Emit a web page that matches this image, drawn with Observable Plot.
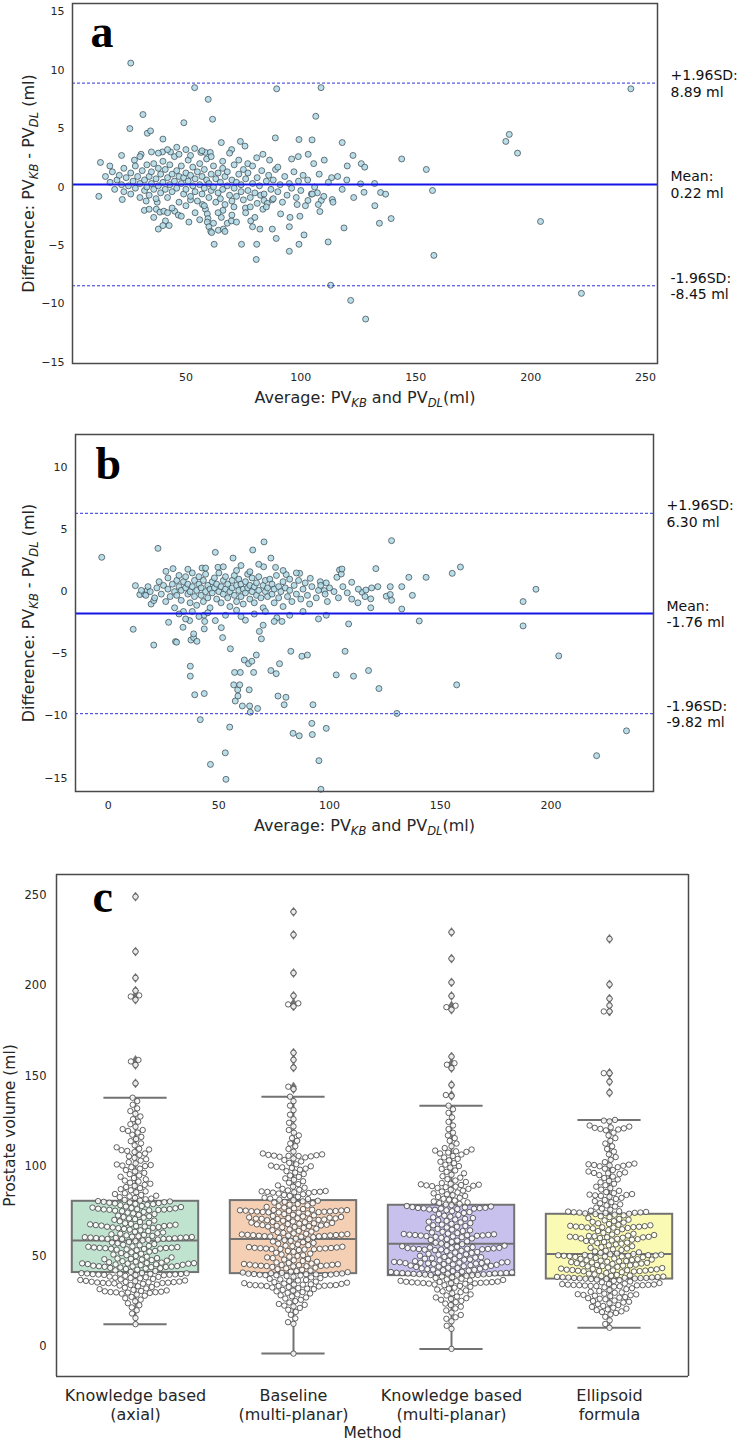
<!DOCTYPE html>
<html>
<head>
<meta charset="utf-8">
<script src="https://cdn.jsdelivr.net/npm/d3@7"></script>
<script src="https://cdn.jsdelivr.net/npm/@observablehq/plot@0.6"></script>
<style>
  body { margin: 0; background: #fff; }
  #chart { width: 740px; height: 1441px; background: #fff; }
  #chart svg { display: block; }
</style>
</head>
<body>
<div id="chart"></div>
<script>
// ---------- Panel a: Bland-Altman, PV_KB vs PV_DL (axial) ----------
const pointsA = [
  [26.0,10.6],[53.8,8.5],[59.7,7.5],[89.5,8.4],[108.8,8.5],[31.3,6.2],[25.6,5.0],[49.1,5.5],[61.6,5.8],[106.5,6.05],
  [33.2,4.6],[34.6,4.8],[40.0,4.1],[65.4,3.8],[73.7,3.9],[75.7,3.5],[88.9,4.2],[99.2,4.06],[104.9,4.03],[118.0,3.8],
  [46.0,3.4],[50.0,3.2],[53.8,3.3],[56.5,2.96],[58.5,2.96],[60.6,2.96],[69.9,3.2],[39.8,3.0],[43.3,3.0],[103.2,2.8],
  [122.7,2.7],[73.0,2.3],[76.9,2.0],[80.8,2.5],[83.5,2.8],[86.4,2.3],[105.6,2.0],[110.2,2.3],[96.0,2.4],[98.9,2.6],
  [120.2,1.8],[126.3,2.0],[127.8,1.7],[12.8,2.1],[16.9,1.8],[22.0,2.7],[27.6,2.3],[30.5,2.8],[89.0,1.5],
  [12.1,-0.8],[22.3,-1.07],[31.9,-2.0],[32.7,-1.2],[37.1,-1.9],[38.7,-2.15],[40.4,-2.07],[37.5,-1.3],[41.1,-2.9],[42.7,-3.3],
  [45.1,-2.07],[46.7,-2.4],[51.3,-3.0],[52.0,-1.1],[57.2,-1.5],[58.5,-1.9],[59.3,-2.3],[59.6,-2.7],[59.3,-3.0],[60.0,-3.4],
  [60.8,-3.8],[61.2,-3.9],[62.3,-4.9],[64.1,-3.7],[66.3,-3.6],[68.0,-3.1],[69.8,-2.9],[65.4,-2.6],[66.1,-2.0],[70.9,-1.7],
  [74.2,-4.9],[75.9,-1.8],[78.2,-2.9],[79.0,-3.4],[80.8,-4.9],[82.2,-3.6],[80.6,-6.2],[82.5,-0.7],[84.0,-1.15],[85.4,-1.4],
  [87.6,-1.1],[83.5,-1.9],[87.6,-3.6],[89.3,-4.4],[91.2,-2.3],[95.0,-3.4],[95.0,-5.5],[95.3,-2.6],[98.4,-1.5],[99.2,-4.9],
  [99.6,-2.5],[101.4,-4.1],[103.1,-1.15],[104.6,-0.6],[107.2,-0.5],[108.3,-2.1],[108.9,-1.15],[107.6,-1.5],[111.9,-4.7],[113.0,-8.4],
  [113.7,-1.07],[118.8,-3.5],[121.7,-9.7],[128.2,-11.3],[127.5,-0.45],[126.0,0.27],[113.4,0.8],
  [243.6,8.4],[190.7,4.5],[189.2,3.9],[194.3,2.9],[143.9,2.4],[154.6,1.5],[132.1,0.3],[134.7,-0.47],[136.9,-0.61],[157.3,-0.3],
  [132.2,-1.6],[134.2,-3.1],[139.3,-2.7],[204.3,-2.95],[157.9,-5.85],[222.1,-9.1],
  [15,0.9],[17,0.4],[18,1.3],[19,-0.2],[20,0.6],[21,1.0],[22,0.2],[23,-0.4],[23,1.6],[24,0.8],[25,0.1],[26,1.2],[26,-0.6],
  [27,0.5],[28,1.8],[28,-0.1],[29,0.9],[30,0.3],[30,-0.9],[31,1.4],[32,0.6],[32,-0.3],[33,1.9],[33,0.0],[34,0.9],[34,-0.7],
  [35,1.3],[35,0.3],[36,-0.2],[36,2.0],[37,0.7],[37,-1.0],[38,1.6],[38,0.1],[39,-0.5],[39,1.1],[40,0.4],[40,2.2],[41,-0.2],
  [41,1.5],[42,0.8],[42,-0.9],[43,0.2],[43,1.9],[44,-0.4],[44,1.1],[45,0.5],[45,2.6],[46,-0.1],[46,1.4],[47,0.9],[47,-1.3],
  [48,0.3],[48,1.8],[49,-0.6],[49,0.8],[50,1.2],[50,-0.2],[51,0.5],[51,2.3],[52,-0.8],[52,1.0],[53,0.1],[53,1.7],[54,-0.4],
  [54,0.7],[55,1.3],[55,-1.2],[56,0.2],[56,2.0],[57,-0.6],[57,0.9],[58,1.5],[58,-0.1],[59,0.6],[59,2.4],[60,-0.9],[60,0.3],
  [61,1.1],[61,-0.3],[62,0.0],[62,1.8],[63,-1.3],[63,0.7],[64,-0.5],[64,1.2],[65,0.4],[65,-1.0],[66,1.6],[66,-0.2],[67,0.9],
  [67,-1.5],[68,0.1],[68,1.3],[69,-0.7],[70,0.6],[70,-1.2],[71,1.9],[71,-0.1],[72,0.4],[72,-0.8],[73,1.1],[74,-0.4],[74,0.2],
  [75,1.5],[75,-1.1],[76,0.7],[77,-0.3],[77,1.2],[78,-0.9],[79,0.3],[79,1.8],[80,-0.5],[81,0.8],[81,-1.4],[82,0.1],[83,1.4],
  [84,-0.6],[85,0.5],[85,-1.7],[86,1.0],[87,-0.2],[88,0.6],[88,-1.0],[90,1.7],[90,-0.4],[91,0.2],[92,-1.3],[93,0.9],[94,-0.7],
  [95,0.3],[96,-0.1],[97,1.3],[98,-0.9],[99,0.5],[100,-0.3],[101,1.0],[102,-1.6],[103,0.6],[105,-0.6],[106,0.0],[108,1.1],
  [110,-0.8],[112,0.4],[114,-1.3],[116,0.9],[118,-0.2],[120,0.6],[123,-0.9],
  [34,-1.9],[36,-2.6],[38,-3.6],[40,-3.3],[42,-2.2],[44,-1.8],[48,-2.5],[50,-1.6],[54,-2.2],[56,-2.8],[58,-1.6],[62,-3.1],
  [64,-2.2],[67,-3.8],[70,-2.4],[72,-3.0],[76,-2.2],[78,-1.7],[80,-2.6],
  [30,2.6],[35,3.0],[38,2.9],[42,3.2],[47,2.8],[52,2.7],[57,3.1],[61,2.6],[66,2.2],[69,2.9]
];

// ---------- Panel b: Bland-Altman, PV_KB vs PV_DL (multi-planar) ----------
const pointsB = [
  [-2.9,2.76],[12.3,0.48],[11.3,-3.03],[14.3,-0.24],[16.4,-0.21],[17.6,0.08],[19.4,-1.0],[20.6,-0.72],[20.6,-4.3],[22.5,3.48],
  [26.1,1.63],[27.3,-2.47],[29.3,1.85],[30.4,-4.02],[30.9,-4.07],[33.8,-2.87],[37.1,-6.0],[37.1,-6.8],[37.4,-3.9],[38.6,-3.7],
  [38.6,-3.4],[39.1,-8.3],[40.1,-4.0],[36.8,-2.33],[41.6,-10.3],[43.3,-1.9],[43.6,-2.4],[43.4,-3.0],[43.4,-8.2],[42.4,1.9],
  [46.2,-13.9],[48.4,3.16],[49.6,1.96],[48.4,-2.33],[51.1,-2.9],[51.7,-3.7],[52.9,-12.97],[53.2,-15.1],[55.2,-4.6],[54.9,-10.9],
  [56.4,2.7],[57.1,-6.5],[56.7,-7.5],[58.5,-7.9],[59.4,-7.5],[58.6,-8.4],[57.4,-8.8],[59.7,-6.5],[60.6,-9.2],[63.7,-7.9],
  [63.9,-9.2],[64.2,-9.7],[65.7,-6.5],[67.5,-9.4],[60.0,2.1],[61.5,-5.5],[63.4,-5.8],[64.9,-5.6],[66.9,-5.1],[65.3,3.35],
  [68.3,-3.2],[69.2,-3.8],[70.4,4.0],[70.2,2.0],[73.5,2.7],[73.5,-6.35],[75.9,-6.6],[75.6,1.95],[76.2,-2.1],[78.5,-2.4],
  [77.4,-5.8],[76.7,-8.4],[80.3,-8.5],[79.5,-9.1],[80.4,1.37],[82.5,-4.8],[83.5,-11.4],[86.3,-11.6],[86.5,1.47],[87.5,-5.2],
  [90.0,-5.1],[91.3,1.07],[92.5,-9.1],[92.0,-10.6],[92.2,-11.5],[95.2,-13.6],[95.8,0.8],[98.5,0.7],[97.6,0.08],[96.1,-15.9],
  [98.5,-11.0],[98.5,-1.9],[103.3,1.15],[104.5,1.74],[105.3,1.42],[105.6,1.82],[103.0,-6.7],[107.0,-4.8],[108.6,-2.6],[110.8,-6.8],
  [110.0,0.75],[112.8,-0.9],[114.7,-0.05],[116.4,0.13],[117.6,-6.35],
  [128.0,4.1],[120.9,1.85],[121.8,0.4],[127.4,0.4],[132.6,0.4],[135.8,1.15],[143.6,1.15],[125.6,-0.37],[127.4,-0.23],[128.0,-0.7],
  [137.4,-0.3],[132.6,-1.4],[118.6,-0.58],[118.6,-1.3],[140.5,-2.36],[155.4,1.47],[159.1,1.98],[187.4,-0.8],[187.4,-2.76],[193.2,0.19],
  [203.5,-5.17],[157.4,-7.5],[122.3,-7.8],[130.4,-9.8],[220.6,-13.2],[234.1,-11.2],
  [15,0.1],[17,-0.3],[18,0.4],[19,0.0],[21,-0.5],[22,0.3],[23,0.8],[24,-0.2],[25,0.5],[26,-0.8],[27,0.2],[27,1.1],[28,-0.4],
  [29,0.6],[30,0.0],[30,-1.3],[31,0.9],[31,-0.3],[32,0.4],[32,1.3],[33,-0.7],[33,0.1],[34,0.8],[34,-1.6],[35,0.3],[35,1.2],
  [36,-0.2],[36,0.6],[37,-0.9],[37,0.0],[38,1.5],[38,0.4],[39,-0.4],[39,0.9],[40,0.1],[40,-1.1],[41,0.6],[41,1.2],[42,-0.3],
  [42,0.3],[43,0.9],[43,-0.8],[44,0.0],[44,1.4],[45,-0.5],[45,0.5],[46,0.2],[46,-1.3],[47,0.8],[47,-0.1],[48,1.1],[48,0.3],
  [49,-0.6],[49,0.6],[50,0.0],[50,1.5],[51,-0.9],[51,0.4],[52,0.9],[52,-0.2],[53,0.2],[53,1.2],[54,-0.5],[54,0.6],[55,0.0],
  [55,-1.2],[56,0.9],[56,0.3],[57,-0.3],[57,1.3],[58,0.5],[58,-0.8],[59,0.1],[59,1.0],[60,-0.4],[60,0.6],[61,0.2],[61,-1.0],
  [62,0.8],[62,-0.1],[63,1.4],[63,0.3],[64,-0.6],[64,0.5],[65,0.0],[65,1.1],[66,-0.9],[66,0.4],[67,0.7],[67,-0.3],[68,0.1],
  [68,1.2],[69,-0.5],[70,0.5],[70,-1.3],[71,0.9],[71,0.0],[72,-0.4],[72,0.3],[73,1.0],[74,-0.2],[74,0.6],[75,-0.9],[75,0.2],
  [76,1.3],[77,-0.5],[77,0.4],[78,0.0],[79,0.8],[79,-1.2],[80,0.3],[81,-0.4],[82,1.0],[82,0.1],[83,-0.8],[84,0.5],[85,-0.2],
  [86,0.9],[87,-0.6],[88,0.2],[89,0.7],[90,-0.3],[91,-1.0],[92,0.4],[94,-0.5],[95,0.1],[96,0.5],[98,-0.2],[99,-0.8],[100,0.3],
  [102,0.0],[104,-0.5],[106,0.4],[108,-0.1],[110,-0.6],[113,0.2],[116,-0.4],[119,0.3],
  [32,-1.8],[35,-2.2],[38,-1.6],[41,-2.0],[45,-1.7],[53,-1.9],[58,-1.5],[62,-2.3],[66,-1.8],[71,-1.6],[75,-2.4],[82,-1.9],
  [88,-1.6],[95,-2.2],[60,-2.0],[70,-2.7],
  [36,1.8],[44,1.9],[52,2.0],[58,1.7],[64,1.6],[68,2.2],[79,1.7],[85,1.5]
];

// Limits of agreement (upper, mean, lower)
const limitNames = ["+1.96SD:", "Mean:", "-1.96SD:"];
const limitsA = [8.89, 0.22, -8.45];
const limitsB = [6.30, -1.76, -9.82];

// ---------- Panel c: prostate volume per method ----------
const methods = ["Knowledge based (axial)", "Baseline (multi-planar)", "Knowledge based (multi-planar)", "Ellipsoid formula"];
const methodLabels = ["Knowledge based\n(axial)", "Baseline\n(multi-planar)", "Knowledge based\n(multi-planar)", "Ellipsoid\nformula"];
const boxColors = ["#c0e3cf", "#f5cfb3", "#c8c1ee", "#fbfab4"];
const q1 = [41.0, 40.4, 39.3, 37.4];
const medians = [58.7, 59.6, 57.0, 51.3];
const q3 = [80.5, 80.9, 78.3, 73.3];
const whiskerLo = [12.4, -3.9, -1.3, 10.4];
const whiskerHi = [137.9, 138.5, 133.5, 125.6];

const volKbAxial = [
  12.4,15.8,18.3,20.1,21.7,22.9,24.0,25.1,26.0,26.8,27.5,28.2,28.8,29.3,
  29.7,29.9,30.0,30.1,30.2,30.4,30.6,30.8,31.1,31.4,
  31.8,32.2,32.6,33.0,33.4,33.8,34.1,34.4,
  34.8,35.0,35.1,35.2,35.3,35.4,35.5,35.6,35.7,35.8,35.9,36.0,36.2,36.4,36.6,36.9,37.2,37.5,
  37.8,38.0,38.2,38.4,38.6,38.8,39.2,
  39.5,39.6,39.7,39.8,39.9,40.0,40.1,40.2,40.3,40.4,40.5,40.6,40.7,40.8,
  41.4,41.8,42.2,42.6,43.0,
  43.2,43.4,43.6,43.8,44.0,44.1,44.2,44.3,44.4,44.5,44.6,
  44.8,45.1,45.3,45.5,45.6,45.7,45.9,46.0,46.1,46.2,46.3,46.5,46.7,47.0,47.3,47.6,47.9,
  48.2,48.4,48.6,48.8,49.0,49.4,49.8,50.2,50.6,51.0,51.4,51.8,52.2,52.6,53.0,
  53.4,53.7,53.9,54.1,54.2,54.3,54.5,54.6,54.7,54.8,54.9,55.1,55.3,55.5,55.8,56.1,56.4,
  56.8,57.2,57.6,58.0,58.4,58.8,
  59.1,59.3,59.5,59.6,59.7,59.8,59.9,60.0,60.1,60.2,60.3,60.4,60.5,60.6,60.7,60.9,61.1,61.3,61.6,61.9,62.2,62.5,
  62.8,63.2,63.6,64.0,64.4,64.8,65.2,
  65.6,65.8,66.0,66.2,66.4,66.5,66.7,66.8,67.0,67.1,67.3,67.5,67.7,68.0,68.3,68.6,
  69.0,69.4,69.8,70.2,70.6,71.0,71.4,71.8,72.2,72.6,73.0,73.4,73.8,74.2,74.6,
  75.0,75.3,75.5,75.7,75.8,75.9,76.0,76.1,76.2,76.4,76.6,76.8,77.0,77.3,77.6,
  77.9,78.3,78.6,78.9,79.1,79.3,79.5,79.7,79.9,80.0,80.2,80.4,80.6,80.9,81.2,
  81.6,82.0,82.4,82.8,83.2,83.6,84.0,84.5,85.0,85.5,86.0,86.6,87.2,87.8,88.4,89.0,89.6,90.2,90.8,91.4,
  92.0,92.7,93.4,94.1,94.8,95.5,96.2,97.0,97.8,98.6,99.4,100.0,100.3,100.6,100.9,101.5,102.2,103.0,103.8,104.6,
  105.4,106.2,107.0,107.8,108.4,108.8,109.2,109.6,110.4,111.5,112.6,113.8,115.0,116.2,117.4,118.6,119.5,120.0,120.5,121.8,
  123.2,124.6,126.0,127.5,129.0,130.5,132.0,134.0,136.0,137.9,
  145.9,156.1,158.0,158.8,192.2,194.0,194.6,197.2,204.3,218.9,249.3
];

const volBaseline = [
  -3.9,12.6,13.5,15.6,17.6,19.2,20.4,21.4,22.2,22.7,23.1,23.6,24.4,25.2,25.9,26.6,27.2,27.8,28.4,28.9,
  29.4,29.8,30.2,30.6,31.0,31.4,31.8,32.1,32.4,32.7,33.0,
  33.3,33.5,33.6,33.7,33.8,33.9,34.0,34.1,34.2,34.3,34.4,34.5,34.7,34.9,35.1,35.4,35.7,
  36.0,36.3,36.6,36.9,37.2,37.5,37.9,38.3,38.7,39.1,
  39.4,39.5,39.6,39.7,39.8,39.9,40.0,40.1,40.2,40.3,40.4,40.5,40.6,40.8,41.0,41.2,41.5,41.8,
  42.1,42.5,42.9,43.3,43.7,44.1,
  44.4,44.5,44.6,44.7,44.8,44.9,45.0,45.1,45.2,45.3,45.4,45.6,45.8,46.0,46.3,46.6,
  47.0,47.4,47.8,48.2,48.6,49.0,49.4,49.8,50.2,50.6,51.0,51.5,52.0,52.5,53.0,53.5,
  53.8,53.9,54.0,54.1,54.2,54.3,54.4,54.5,54.6,54.7,54.9,55.1,55.3,55.6,55.9,
  56.2,56.6,57.0,57.4,57.8,58.2,58.6,59.0,59.4,59.8,60.2,60.6,
  60.9,61.0,61.1,61.2,61.3,61.4,61.5,61.6,61.7,61.8,61.9,62.0,62.1,62.3,62.5,62.7,63.0,63.3,
  63.7,64.1,64.5,64.9,65.3,65.7,66.1,66.3,66.5,66.7,66.9,67.1,67.3,67.5,67.7,67.9,68.1,68.3,68.5,68.7,68.9,69.1,69.3,69.7,
  70.0,70.2,70.4,70.6,70.7,70.8,70.9,71.0,71.1,71.2,71.4,71.6,71.8,72.1,72.4,72.7,
  73.0,73.4,73.8,74.2,74.3,74.4,74.5,74.6,74.7,74.8,74.9,75.0,75.1,75.2,75.3,75.4,75.5,75.6,75.7,75.8,
  76.2,76.6,77.0,77.4,77.8,78.2,78.6,79.0,79.4,79.8,80.2,80.5,80.8,81.1,81.4,81.7,
  82.0,82.5,83.0,83.5,84.0,84.4,84.8,85.1,85.3,85.5,85.6,85.7,85.8,86.0,86.2,86.5,86.9,87.4,88.0,88.6,
  89.3,90.0,90.8,91.6,92.4,93.2,94.0,94.8,95.6,96.4,97.2,98.0,98.6,99.0,99.3,99.6,99.9,100.3,101.0,101.8,
  102.6,103.4,104.2,104.8,105.2,105.4,105.6,105.7,105.8,106.0,106.2,106.5,107.0,108.0,109.5,111.0,112.5,114.0,115.5,117.0,
  118.5,120.0,122.0,124.0,126.0,128.5,131.0,133.5,136.0,138.5,
  142.7,144.0,154.6,158.9,162.8,188.5,189.6,190.2,194.4,207.0,228.2,240.9
];

const volKbMultiplanar = [
  -1.3,9.8,11.5,14.0,15.4,16.2,17.5,18.8,20.0,21.1,22.1,23.0,23.8,24.6,25.3,25.9,26.4,26.8,27.2,27.7,
  28.3,28.9,29.5,30.1,30.6,31.1,31.6,32.1,32.6,33.1,33.6,34.0,34.4,
  34.8,34.9,35.0,35.1,35.2,35.3,35.4,35.5,35.6,35.7,35.8,35.9,36.0,36.2,36.4,36.6,36.9,37.2,
  37.6,38.0,38.4,38.8,39.2,
  39.5,39.6,39.7,39.8,39.9,40.0,40.1,40.2,40.3,40.4,40.5,40.5,40.6,40.7,40.8,40.9,41.0,41.1,41.3,41.5,41.8,42.1,
  42.3,42.5,42.7,42.9,43.1,43.3,43.5,43.7,43.9,44.1,44.3,44.5,44.7,44.9,45.1,45.3,45.5,
  45.7,45.9,46.0,46.1,46.2,46.3,46.4,46.5,46.6,46.7,46.8,46.9,47.1,47.3,47.5,47.8,48.1,48.3,
  48.5,48.7,48.9,49.3,49.5,49.7,50.1,50.3,50.5,50.9,51.1,51.4,51.9,52.1,52.4,52.9,53.1,53.4,
  53.7,53.8,53.9,54.0,54.1,54.2,54.3,54.4,54.5,54.6,54.7,54.9,55.1,55.3,55.6,55.9,
  56.3,56.7,57.1,57.5,57.9,58.3,58.7,59.1,59.5,59.9,
  60.3,60.6,60.8,61.0,61.2,61.4,61.5,61.6,61.7,61.8,61.9,62.0,62.2,62.4,62.6,62.9,63.2,
  63.6,64.0,64.4,64.8,65.2,65.6,66.0,66.4,66.8,67.2,67.6,68.0,68.4,68.8,69.2,69.6,70.0,70.4,70.8,71.2,
  71.6,72.0,72.5,73.0,73.5,74.0,74.5,75.0,
  75.5,75.8,76.0,76.2,76.4,76.5,76.6,76.7,76.8,76.9,77.1,77.3,77.6,77.9,
  78.3,78.7,79.1,79.5,79.9,
  80.4,80.9,81.4,81.9,82.4,82.9,83.4,83.9,84.4,84.9,85.4,85.9,86.4,86.9,87.4,87.9,88.3,88.6,88.9,89.1,
  89.3,89.5,89.7,89.9,90.2,90.6,91.2,92.0,92.8,93.6,94.4,95.2,96.0,96.8,97.6,98.4,99.2,100.0,100.8,101.6,
  102.4,103.2,104.0,104.8,105.6,106.4,107.0,107.5,107.9,108.2,108.6,109.2,110.0,111.0,112.5,114.0,115.5,117.0,118.5,120.5,
  122.5,124.5,127.0,129.5,131.5,133.5,
  138.9,139.4,145.0,154.3,156.2,157.0,160.7,186.7,188.1,188.9,194.3,201.8,215.0,229.6
];

const volEllipsoid = [
  10.4,12.5,14.5,16.5,17.8,18.6,19.1,19.5,20.2,20.6,21.0,21.5,22.0,22.5,23.0,23.5,24.0,24.4,24.8,25.2,
  25.5,26.2,26.5,26.8,27.1,27.4,27.9,28.2,28.4,28.6,28.9,29.0,29.3,29.8,30.0,30.3,30.8,31.3,31.8,32.3,32.8,
  33.2,33.4,33.5,33.6,33.8,33.9,34.0,34.0,34.1,34.2,34.3,34.4,34.6,34.7,34.9,35.2,
  35.6,36.0,36.4,36.8,37.1,
  37.4,37.5,37.6,37.7,37.8,37.9,38.0,38.0,38.1,38.2,38.3,38.4,38.5,38.6,38.8,39.0,39.2,39.4,39.7,40.0,
  40.4,40.8,41.2,
  41.6,41.7,41.8,41.9,42.0,42.1,42.2,42.3,42.4,42.5,42.6,42.8,43.0,43.2,43.5,43.8,
  44.2,44.4,44.6,44.8,45.0,45.2,45.4,45.6,45.8,46.0,46.2,46.4,46.6,46.8,47.0,47.2,47.4,47.6,47.8,48.0,48.2,48.4,48.6,48.8,49.1,
  49.5,49.7,49.9,50.0,50.1,50.2,50.3,50.4,50.5,50.6,50.7,50.8,50.9,51.1,51.3,51.6,51.9,52.2,
  52.7,53.1,53.5,53.9,54.3,54.7,55.1,55.6,56.1,
  56.6,57.0,57.3,57.6,57.9,58.2,58.5,58.8,
  59.2,59.5,59.7,59.9,60.1,60.3,60.5,60.6,60.7,60.8,60.9,61.1,61.3,61.5,61.8,62.1,
  62.5,63.0,63.5,64.0,64.5,65.0,
  65.5,65.7,65.9,66.0,66.1,66.2,66.3,66.4,66.5,66.7,66.9,67.2,67.5,
  67.9,68.3,68.7,69.1,69.5,69.9,70.3,70.7,71.2,71.7,72.2,72.7,
  73.1,73.4,73.6,73.8,74.0,74.1,74.2,74.3,74.4,74.6,74.8,75.0,75.3,
  75.8,76.4,77.0,77.6,78.2,78.8,79.4,80.0,80.6,81.2,81.8,82.4,83.0,83.5,83.8,84.0,84.2,84.5,85.0,85.6,
  86.3,87.0,87.8,88.6,89.4,90.2,91.0,91.8,92.6,93.4,94.2,95.0,95.6,96.0,96.2,96.5,97.0,97.8,98.6,99.4,
  99.9,100.2,100.4,100.6,100.8,101.0,101.4,102.2,103.5,105.0,106.5,108.0,109.5,111.0,112.5,114.0,115.5,117.0,118.5,119.8,
  120.3,120.6,120.9,121.2,121.5,121.9,122.5,124.8,125.2,125.6,
  140.7,146.8,151.5,151.5,185.7,185.7,189.0,192.8,200.7,225.9
];

// ---------- shared styling ----------
const FONT = "DejaVu Sans, Liberation Sans, sans-serif";
const LETTER_FONT = "Liberation Serif, DejaVu Serif, serif";
const FRAME = "#4a4a4a";
const MEAN_BLUE = "#1414e6";
const LIMIT_BLUE = "#3030d8";
const SVGNS = "http://www.w3.org/2000/svg";

// Rebuild labels like "PV_KB" into tspans with italic subscripts.
function subscriptLabels(svg, size) {
  svg.querySelectorAll("text").forEach((t) => {
    if (!/_(KB|DL)/.test(t.textContent)) return;
    const parts = t.textContent.split(/_(KB|DL)/);
    t.textContent = "";
    const shift = size * 0.28;
    parts.forEach((p, i) => {
      if (p === "") return;
      const s = document.createElementNS(SVGNS, "tspan");
      s.textContent = p;
      if (i % 2 === 1) {
        s.setAttribute("font-size", size * 0.72);
        s.setAttribute("font-style", "italic");
        s.setAttribute("dy", shift);
      } else if (i > 0) {
        s.setAttribute("dy", -shift);
      }
      t.appendChild(s);
    });
  });
}

function blandAltman({points, limits, letter, xDomain, yDomain, xTicks, yTicks, height, margins, letterDx, letterDy, xLabelDy}) {
  const limitRows = limits.map((v, i) => ({value: v, label: `${limitNames[i]}\n${v.toFixed(2)} ml`, kind: i}));
  const svg = Plot.plot({
    width: 740,
    height,
    ...margins,
    style: {fontFamily: FONT, fontSize: "11px", color: "#262626", background: "#fff"},
    x: {domain: xDomain, ticks: xTicks, tickSize: 0, tickPadding: 10, label: null},
    y: {domain: yDomain, ticks: yTicks, tickSize: 0, tickPadding: 8, label: null},
    marks: [
      Plot.dot(points, {x: (d) => d[0], y: (d) => d[1], r: 3, fill: "#add8e6", fillOpacity: 0.85,
        stroke: "#2f3b40", strokeOpacity: 0.85, strokeWidth: 0.8}),
      Plot.ruleY(limitRows.filter((d) => d.kind !== 1), {y: "value", stroke: LIMIT_BLUE, strokeWidth: 1, strokeDasharray: "3,2"}),
      Plot.ruleY(limitRows.filter((d) => d.kind === 1), {y: "value", stroke: MEAN_BLUE, strokeWidth: 2}),
      Plot.text(limitRows, {y: "value", text: "label", frameAnchor: "right", textAnchor: "start", lineAnchor: "middle",
        dx: 13, fontSize: 14, lineHeight: 1.18, fill: "#111"}),
      Plot.frame({stroke: FRAME, strokeWidth: 1.5}),
      Plot.text([letter], {text: (d) => d, frameAnchor: "top-left", textAnchor: "start", lineAnchor: "middle",
        dx: letterDx, dy: letterDy, fontSize: 46, fontWeight: "bold", fontFamily: LETTER_FONT, fill: "#000"}),
      Plot.text(["Difference: PV_KB - PV_DL (ml)"], {text: (d) => d, frameAnchor: "left", textAnchor: "middle",
        lineAnchor: "middle", rotate: -90, dx: -margins.marginLeft + 28, fontSize: 16, fill: "#262626"}),
      Plot.text(["Average: PV_KB and PV_DL(ml)"], {text: (d) => d, frameAnchor: "bottom", textAnchor: "middle",
        lineAnchor: "middle", dy: xLabelDy, fontSize: 16, fill: "#262626"})
    ]
  });
  subscriptLabels(svg, 16);
  return svg;
}

const chart = document.getElementById("chart");

chart.appendChild(blandAltman({
  points: pointsA, limits: limitsA, letter: "a",
  xDomain: [0.65, 255.2], yDomain: [-15.1, 15.7],
  xTicks: [50, 100, 150, 200, 250], yTicks: [-15, -10, -5, 0, 5, 10, 15],
  height: 412, margins: {marginTop: 3, marginBottom: 49, marginLeft: 72, marginRight: 83},
  letterDx: 18, letterDy: 29, xLabelDy: 34
}));

chart.appendChild(blandAltman({
  points: pointsB, limits: limitsB, letter: "b",
  xDomain: [-14.75, 246.3], yDomain: [-16.08, 12.64],
  xTicks: [0, 50, 100, 150, 200], yTicks: [-15, -10, -5, 0, 5, 10],
  height: 433, margins: {marginTop: 22, marginBottom: 54, marginLeft: 75, marginRight: 87},
  letterDx: 20, letterDy: 30, xLabelDy: 34
}));

// ---------- Panel c: box plots with beeswarm overlay ----------
const volumes = [volKbAxial, volBaseline, volKbMultiplanar, volEllipsoid];
const swarm = volumes.flatMap((vals, i) => vals.map((v) => ({method: methods[i], value: v})));
const stats = methods.map((m, i) => ({
  method: m, q1: q1[i], median: medians[i], q3: q3[i], lo: whiskerLo[i], hi: whiskerHi[i], color: boxColors[i]
}));
const outliers = swarm.filter((d) => {
  const i = methods.indexOf(d.method);
  return d.value > whiskerHi[i] || d.value < whiskerLo[i];
});
const yDomainC = [-16.6, 261.6];
const BOX_EDGE = "#727272";

// Thin diamond used for the box-plot fliers
const thinDiamond = {
  draw(context, size) {
    const r = Math.sqrt(size / Math.PI);
    const h = r * 1.65, w = r * 1.05;
    context.moveTo(0, -h);
    context.lineTo(w, 0);
    context.lineTo(0, h);
    context.lineTo(-w, 0);
    context.closePath();
  }
};

const svgC = Plot.plot({
  width: 740,
  height: 596,
  marginTop: 29,
  marginBottom: 65,
  marginLeft: 56,
  marginRight: 52,
  style: {fontFamily: FONT, fontSize: "11.5px", color: "#262626", background: "#fff"},
  fx: {domain: methods, padding: 0, axis: null},
  x: {domain: [-0.5, 0.5], axis: null},
  y: {domain: yDomainC, ticks: [0, 50, 100, 150, 200, 250], tickSize: 0, tickPadding: 10, label: null},
  marks: [
    Plot.ruleX(stats, {fx: "method", x: () => 0, y1: "q3", y2: "hi", stroke: BOX_EDGE, strokeWidth: 2}),
    Plot.ruleX(stats, {fx: "method", x: () => 0, y1: "lo", y2: "q1", stroke: BOX_EDGE, strokeWidth: 2}),
    Plot.ruleY(stats, {fx: "method", y: "hi", x1: () => -0.2, x2: () => 0.2, stroke: BOX_EDGE, strokeWidth: 2}),
    Plot.ruleY(stats, {fx: "method", y: "lo", x1: () => -0.2, x2: () => 0.2, stroke: BOX_EDGE, strokeWidth: 2}),
    Plot.rect(stats, {fx: "method", x1: () => -0.4, x2: () => 0.4, y1: "q1", y2: "q3", fill: "color", stroke: BOX_EDGE, strokeWidth: 2}),
    Plot.ruleY(stats, {fx: "method", y: "median", x1: () => -0.4, x2: () => 0.4, stroke: BOX_EDGE, strokeWidth: 2}),
    Plot.dot(outliers, {fx: "method", x: () => 0, y: "value", r: 2.8, symbol: thinDiamond, fill: BOX_EDGE, stroke: BOX_EDGE, strokeWidth: 0.6}),
    Plot.dot(swarm, Plot.dodgeX({anchor: "middle", padding: 0.3}, {fx: "method", y: "value", r: 2.7,
      fill: "#ffffff", fillOpacity: 0.85, stroke: "#4f4f4f", strokeWidth: 0.9})),
    // outer frame
    Plot.ruleY(yDomainC, {stroke: FRAME, strokeWidth: 1.5}),
    Plot.ruleX([methods[0]], {fx: (d) => d, x: () => -0.5, stroke: FRAME, strokeWidth: 1.5}),
    Plot.ruleX([methods[3]], {fx: (d) => d, x: () => 0.5, stroke: FRAME, strokeWidth: 1.5}),
    // labels
    Plot.text(methods, {fx: (d) => d, text: (d, i) => methodLabels[i], frameAnchor: "bottom", lineAnchor: "middle",
      dy: 27.5, fontSize: 16, lineHeight: 1.19, fill: "#262626"}),
    Plot.text(["Method"], {fx: () => methods[1], text: (d) => d, frameAnchor: "bottom-right", textAnchor: "middle",
      lineAnchor: "middle", dy: 57, fontSize: 15.5, fill: "#262626"}),
    Plot.text(["Prostate volume (ml)"], {fx: () => methods[0], text: (d) => d, frameAnchor: "left", textAnchor: "middle",
      lineAnchor: "middle", rotate: -90, dx: -46, fontSize: 15.5, fill: "#262626"}),
    Plot.text(["c"], {fx: () => methods[0], text: (d) => d, frameAnchor: "top-left", textAnchor: "start", lineAnchor: "middle",
      dx: 36, dy: 23, fontSize: 46, fontWeight: "bold", fontFamily: LETTER_FONT, fill: "#000"})
  ]
});
chart.appendChild(svgC);
</script>
</body>
</html>
